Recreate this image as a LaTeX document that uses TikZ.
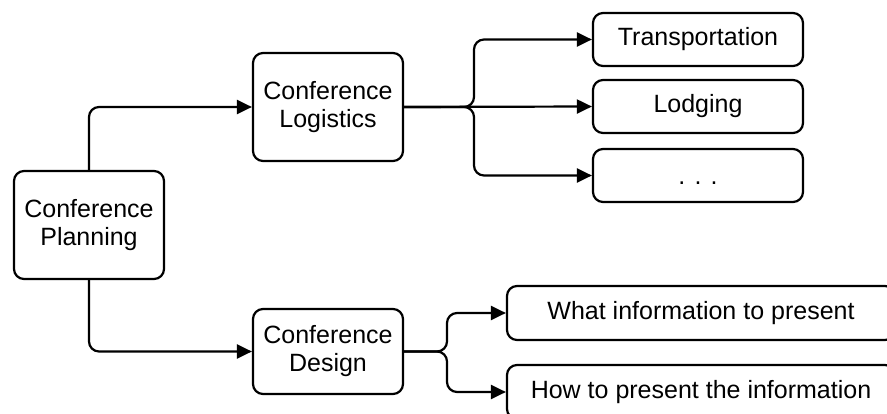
\documentclass[tikz,border=0pt]{standalone}
\usepackage{fontspec}
\setmainfont{Liberation Sans}
\usetikzlibrary{arrows.meta}
\begin{document}
\begin{tikzpicture}[x=1pt,y=-1pt,
  box/.style={draw,line width=2.2pt,rounded corners=10pt,align=center,inner sep=0pt,
    font=\fontsize{25}{28}\selectfont},
  conn/.style={line width=2.2pt,rounded corners=10pt,-{Triangle[length=15pt,width=14pt]}}]
\useasboundingbox (0,0) rectangle (887,414);
\clip (0,0) rectangle (887,414);
\fill[white] (0,0) rectangle (887,414);
\node[box,minimum width=150pt,minimum height=108pt] (plan) at (89,225) {Conference\\Planning};
\node[box,minimum width=150pt,minimum height=108pt] (log) at (328,107) {Conference\\Logistics};
\node[box,minimum width=150pt,minimum height=85pt] (des) at (328,351.5) {Conference\\Design};
\node[box,minimum width=210pt,minimum height=53pt] (trans) at (698,39.5) {Transportation};
\node[box,minimum width=210pt,minimum height=53pt] (lodg) at (698,106.5) {Lodging};
\node[box,minimum width=210pt,minimum height=53pt] (dots) at (698,175.5) {\vphantom{L}. . .};
\node[box,minimum width=388pt,minimum height=54pt] (what) at (701,313) {What information to present};
\node[box,minimum width=388pt,minimum height=54pt] (how) at (701,392) {How to present the information};
\coordinate (lb) at (474,107);
\coordinate (db) at (447,351.5);
\draw[conn] (plan.north) |- (log.west);
\draw[conn] (plan.south) |- (des.west);
\draw[conn] (log.east) -- (lb) |- (trans.west);
\draw[conn] (log.east) -- (lodg.west);
\draw[conn] (log.east) -- (lb) |- (dots.west);
\draw[conn] (des.east) -- (db) |- (what.west);
\draw[conn] (des.east) -- (db) |- (how.west);
\end{tikzpicture}
\end{document}
